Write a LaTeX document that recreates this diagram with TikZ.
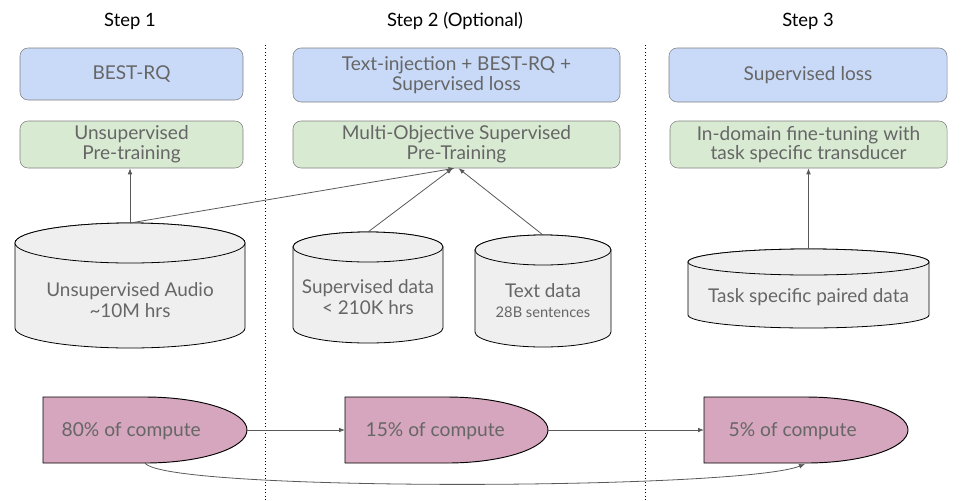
\documentclass[tikz,border=0pt]{standalone}
\usepackage{fontspec}
\setmainfont{Lato}
\usetikzlibrary{arrows.meta}
\definecolor{lossblue}{HTML}{C9DAF8}
\definecolor{traingreen}{HTML}{D9EAD3}
\definecolor{dbgray}{HTML}{EFEFEF}
\definecolor{computepink}{HTML}{D5A6BD}
\definecolor{labelgray}{HTML}{666666}
\definecolor{boxline}{HTML}{7F7F7F}
\definecolor{arrowgray}{HTML}{595959}
\begin{document}
\begin{tikzpicture}[x=0.75pt,y=-0.75pt,
  steptitle/.style={font=\fontsize{13.8}{17}\selectfont, text=black},
  loss/.style={draw=boxline, fill=lossblue, rounded corners=6pt, align=center, text=labelgray, font=\fontsize{14.3}{14.8}\selectfont, inner sep=0pt},
  train/.style={draw=boxline, fill=traingreen, rounded corners=6pt, align=center, text=labelgray, font=\fontsize{14.3}{14.8}\selectfont, inner sep=0pt, minimum height=35.25pt},
  db/.style={draw=black, fill=dbgray, line width=0.6pt},
  dbtext/.style={align=center, text=labelgray, font=\fontsize{14.2}{16}\selectfont},
  compute/.style={draw=black, fill=computepink, line width=0.7pt},
  comptext/.style={anchor=west, text=labelgray, font=\fontsize{14.4}{16}\selectfont},
  link/.style={draw=arrowgray, line width=0.6pt, -{Latex[length=4.5pt,width=3.5pt]}}]
\useasboundingbox (0,0) rectangle (962,500);
% step titles and separators
\node[steptitle] (step1) at (130,21) {Step 1};
\node[steptitle] (step2) at (455,21) {Step 2 (Optional)};
\node[steptitle] (step3) at (808,21) {Step 3};
\foreach \x in {265,645}
	\draw[dotted, line width=0.6pt] (\x,45) -- (\x,500);
% losses
\node[loss, minimum width=167.25pt, minimum height=39pt] (loss1) at (131.5,74) {BEST-RQ};
\node[loss, minimum width=245.25pt, minimum height=40.5pt] (loss2) at (456.5,75) {Text-injection + BEST-RQ +\\Supervised loss};
\node[loss, minimum width=208.5pt, minimum height=40.5pt] (loss3) at (808,75) {Supervised loss};
% training stages
\node[train, minimum width=167.25pt] (train1) at (131.5,144.5) {Unsupervised\\Pre-training};
\node[train, minimum width=245.25pt] (train2) at (456.5,144.5) {Multi-Objective Supervised\\Pre-Training};
\node[train, minimum width=207.75pt] (train3) at (808.5,144.5) {In-domain fine-tuning with\\task specific transducer};
% data cylinders
\filldraw[db] (15,243) -- (15,328) arc[start angle=180, end angle=0, x radius=115, y radius=20] -- (245,243) arc[start angle=0, end angle=-180, x radius=115, y radius=20] -- cycle;
\draw[db] (130,243) ellipse [x radius=115, y radius=20];
\node[dbtext] (audio) at (130,300) {Unsupervised Audio\\\textasciitilde10M hrs};
\coordinate (audiotop) at (130,223);
\filldraw[db] (293,247) -- (293,328) arc[start angle=180, end angle=0, x radius=75, y radius=15] -- (443,247) arc[start angle=0, end angle=-180, x radius=75, y radius=15] -- cycle;
\draw[db] (368,247) ellipse [x radius=75, y radius=15];
\node[dbtext] (supdata) at (368,297) {Supervised data\\< 210K hrs};
\coordinate (supdatatop) at (368,232);
\filldraw[db] (475,250) -- (475,332) arc[start angle=180, end angle=0, x radius=68, y radius=15] -- (611,250) arc[start angle=0, end angle=-180, x radius=68, y radius=15] -- cycle;
\draw[db] (543,250) ellipse [x radius=68, y radius=15];
\node[dbtext] (textdata) at (543,301) {Text data\\[-1pt]{\fontsize{11}{13}\selectfont 28B sentences}};
\coordinate (textdatatop) at (543,235);
\filldraw[db] (688,262) -- (688,315) arc[start angle=180, end angle=0, x radius=120.5, y radius=13] -- (929,262) arc[start angle=0, end angle=-180, x radius=120.5, y radius=13] -- cycle;
\draw[db] (808.5,262) ellipse [x radius=120.5, y radius=13];
\node[dbtext] (taskdata) at (808.5,297) {Task specific paired data};
\coordinate (taskdatatop) at (808.5,249);
% data to training
\draw[link] (audiotop) -- (train1.south -| audiotop);
\draw[link] (audiotop) -- ([xshift=-1.5pt]train2.south);
\draw[link] (supdatatop) -- ([xshift=-3pt]train2.south);
\draw[link] (textdatatop) -- ([xshift=1.5pt]train2.south);
\draw[link] (taskdatatop) -- (train3.south -| taskdatatop);
% compute share
\filldraw[compute] (43,397) -- (145,397) arc[start angle=-90, end angle=90, x radius=102, y radius=33] -- (43,463) -- cycle;
\node[comptext] (c80) at (57,431) {80\% of compute};
\filldraw[compute] (345,397) -- (447,397) arc[start angle=-90, end angle=90, x radius=101, y radius=33] -- (345,463) -- cycle;
\node[comptext] (c15) at (361,431) {15\% of compute};
\filldraw[compute] (704,397) -- (806,397) arc[start angle=-90, end angle=90, x radius=102, y radius=33] -- (704,463) -- cycle;
\node[comptext] (c5) at (724,431) {5\% of compute};
\coordinate (c80tip) at (247,430);
\coordinate (c80bot) at (145,463);
\coordinate (c15left) at (345,430);
\coordinate (c15tip) at (548,430);
\coordinate (c5left) at (704,430);
\coordinate (c5bot) at (805,464);
\draw[link] (c80tip) -- (c15left);
\draw[link] (c15tip) -- (c5left);
\draw[link] (c80bot) .. controls (165,492) and (740,490) .. (c5bot);
\end{tikzpicture}
\end{document}
